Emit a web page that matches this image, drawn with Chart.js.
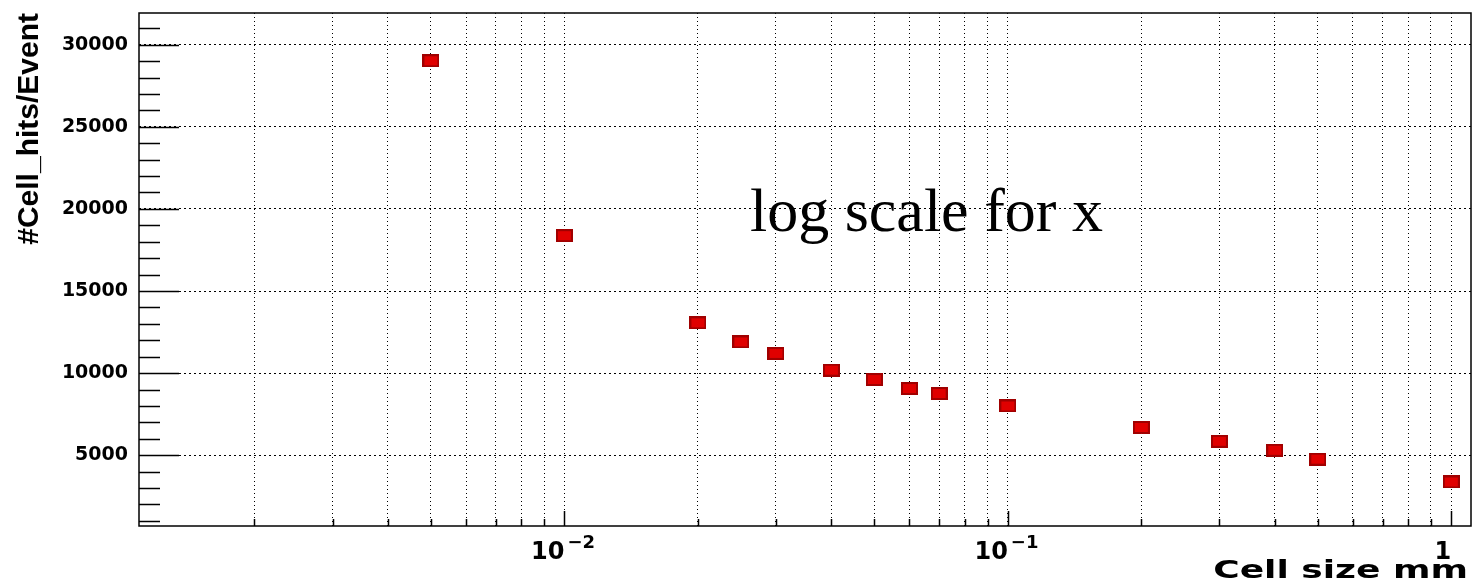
<!DOCTYPE html>
<html>
<head>
<meta charset="utf-8">
<script src="https://cdn.jsdelivr.net/npm/chart.js@4"></script>
<style>
html, body { margin: 0; padding: 0; background: #fff; overflow: hidden; }
#wrap { width: 1473px; height: 582px; }
#myChart { display: block; width: 1473px; height: 582px; }
</style>
</head>
<body>
<div id="wrap"><canvas id="myChart" width="1473" height="582"></canvas></div>
<script>
// DONNEES

const cellSize = [0.005, 0.01, 0.02, 0.025, 0.03, 0.04, 0.05, 0.06, 0.07, 0.1, 0.2, 0.3, 0.4, 0.5, 1];
const cellHits = [29020, 18370, 13060, 11900, 11200, 10180, 9610, 9060, 8760, 8000, 6690, 5850, 5300, 4760, 3370];

const xGridTicks = [
    0.002, 0.003, 0.004, 0.005, 0.006, 0.007, 0.008, 0.009,
    0.01, 0.02, 0.03, 0.04, 0.05, 0.06, 0.07, 0.08, 0.09,
    0.1, 0.2, 0.3, 0.4, 0.5, 0.6, 0.7, 0.8, 0.9,
    1
];
// etiquettes de l'axe x : base + exposant
const xLabelValues = [0.01, 0.1, 1];
const xLabelBase = ['10', '10', '1'];
const xLabelExp = ['\u22122', '\u22121', ''];
const yTicks = [5000, 10000, 15000, 20000, 25000, 30000];

// MARQUEUR ROUGE (rectangle)
const marker = document.createElement('canvas');
marker.width = 17;
marker.height = 13;
const mctx = marker.getContext('2d');
mctx.fillStyle = '#e00000';
mctx.fillRect(0, 0, 17, 13);
mctx.strokeStyle = '#a00000';
mctx.lineWidth = 2;
mctx.strokeRect(1, 1, 15, 11);

const noPadding = () => ({left: 0, top: 0, right: 0, bottom: 0});

// CADRE + TICKS INTERIEURS + TEXTE
const frame = {
    id: 'frame',
    afterDraw(chart) {
        const ctx = chart.ctx;
        const a = chart.chartArea;
        const x = chart.scales.x;
        const y = chart.scales.y;
        ctx.save();
        ctx.strokeStyle = '#000';
        ctx.lineWidth = 1.5;
        ctx.strokeRect(a.left, a.top, a.right - a.left, a.bottom - a.top);

        ctx.beginPath();
        for (let v = 1000; v <= 31000; v += 1000) {
            const py = Math.round(y.getPixelForValue(v)) + 0.5;
            const len = v % 5000 === 0 ? 40 : 21;
            ctx.moveTo(a.left, py);
            ctx.lineTo(a.left + len, py);
        }
        xGridTicks.forEach(v => {
            const px = Math.round(x.getPixelForValue(v)) + 0.5;
            const len = xLabelValues.includes(v) ? 15 : 7;
            ctx.moveTo(px, a.bottom);
            ctx.lineTo(px, a.bottom - len);
        });
        ctx.stroke();

        // etiquettes x (10 puissance)
        ctx.fillStyle = '#000';
        ctx.textBaseline = 'alphabetic';
        xLabelValues.forEach((v, i) => {
            const px = x.getPixelForValue(v);
            ctx.font = 'bold 24px "DejaVu Sans"';
            ctx.textAlign = 'right';
            ctx.fillText(xLabelBase[i], px, a.bottom + 33);
            if (xLabelExp[i]) {
                ctx.font = 'bold 18px "DejaVu Sans"';
                ctx.textAlign = 'left';
                ctx.fillText(xLabelExp[i], px + 3, a.bottom + 22);
            }
        });

        // titre axe x, etire comme dans l'original
        ctx.save();
        ctx.translate(1468, 578);
        ctx.scale(1.5, 1);
        ctx.font = 'bold 24px "DejaVu Sans"';
        ctx.textAlign = 'right';
        ctx.fillText('Cell size mm', 0, 0);
        ctx.restore();

        ctx.font = '62px "Liberation Serif"';
        ctx.textAlign = 'left';
        ctx.fillText('log scale for x', 750, 231);
        ctx.restore();
    }
};

const data = {
    datasets: [{
        label: '#Cell_hits/Event',
        data: cellSize.map((c, i) => ({x: c, y: cellHits[i]})),
        pointStyle: marker,
        pointRadius: 8,
        pointHoverRadius: 8,
        showLine: false,
    }]
};

const config = {
    type: 'scatter',
    data: data,
    options: {
        responsive: false,
        animation: false,
        layout: {autoPadding: false, padding: {left: 0, top: 13, right: 2, bottom: 0}},
        plugins: {legend: {display: false}, tooltip: {enabled: false}},
        scales: {
            x: {
                type: 'logarithmic',
                min: 0.001098,
                max: 1.108,
                afterBuildTicks: scale => {
                    scale.ticks = xGridTicks.map(v => ({value: v}));
                },
                afterFit: scale => {
                    scale.height = 56;
                    scale.getPadding = noPadding;
                },
                grid: {color: '#000', lineWidth: 1, drawTicks: false},
                border: {display: false, dash: [1, 3]},
                ticks: {
                    autoSkip: false,
                    maxRotation: 0,
                    padding: 0,
                    callback: () => ''
                }
            },
            y: {
                min: 690,
                max: 31930,
                afterBuildTicks: scale => {
                    scale.ticks = yTicks.map(v => ({value: v}));
                },
                afterFit: scale => {
                    scale.width = 139;
                    scale.getPadding = noPadding;
                },
                grid: {color: '#000', lineWidth: 1, drawTicks: false},
                border: {display: false, dash: [2, 3]},
                ticks: {
                    padding: 11,
                    color: '#000',
                    font: {family: '"DejaVu Sans"', weight: 'bold', size: 19},
                    callback: v => String(v)
                },
                title: {
                    display: true,
                    text: '#Cell_hits/Event',
                    align: 'end',
                    color: '#000',
                    padding: {top: 12, bottom: 0},
                    font: {family: '"Liberation Sans"', weight: 'bold', size: 30}
                }
            }
        }
    },
    plugins: [frame]
};

const myChart = new Chart(document.getElementById('myChart'), config);
</script>
</body>
</html>
